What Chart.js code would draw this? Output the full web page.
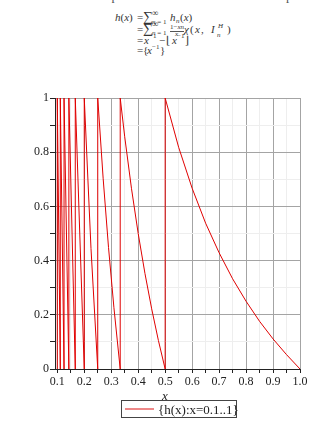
<!DOCTYPE html>
<html>
<head>
<meta charset="utf-8">
<script src="https://cdn.jsdelivr.net/npm/chart.js@4"></script>
<style>
  html, body { margin: 0; padding: 0; background: #fff; }
  body { width: 310px; height: 431px; position: relative; overflow: hidden; font-family: 'Liberation Serif', 'DejaVu Serif', serif; color: #222; }
  #chart { position: absolute; left: 0; top: 0; }
  .abs { position: absolute; white-space: nowrap; line-height: 1; }
  .cut { top: -11px; left: 0; font-size: 13px; color: #555; }
  .m { position: absolute; white-space: nowrap; line-height: 1; font-size: 11px; color: #333; }
  .i { font-style: italic; }
  .m.s { font-size: 7px; }
  .m.inf { font-size: 9px; }
  .m.big { font-size: 14px; }
  .bar { position: absolute; height: 1px; background: #555; }
  #xtitle { left: 162px; top: 389px; font-size: 13px; font-style: italic; }
  #legend { left: 121px; top: 400px; width: 114px; height: 16px; border: 1px solid #444; }
  #legend .ln { position: absolute; left: 3px; top: 7px; width: 29px; height: 2px; background: #e88; }
  #legend .tx { position: absolute; left: 36px; top: 2px; font-size: 13px; }
</style>
</head>
<body>
<div class="abs cut">is the sum of the component functions of the Gauss map</div>

<!-- h(x) = sum h_n(x) = sum (1-xn)/x chi(x, I_n^H) = x^-1 - floor(x^-1) = {x^-1} -->
<span class="m" style="left:115px;top:11.5px"><i>h</i>(<i>x</i>)</span>

<span class="m" style="left:137px;top:11.5px">=</span>
<span class="m big" style="left:143px;top:10px">&sum;</span>
<span class="m inf" style="left:152px;top:9px">&infin;</span>
<span class="m s" style="left:152px;top:18.5px"><i>n</i> = 1</span>
<span class="m i" style="left:170px;top:11.5px">h</span><span class="m s i" style="left:176px;top:17.5px">n</span><span class="m" style="left:180px;top:11.5px">(<i>x</i>)</span>

<span class="m" style="left:137px;top:23.5px">=</span>
<span class="m big" style="left:143px;top:22px">&sum;</span>
<span class="m inf" style="left:152px;top:20px">&infin;</span>
<span class="m s" style="left:152px;top:29.5px"><i>n</i> = 1</span>
<span class="m s" style="left:170px;top:23.5px">1&minus;<i>xn</i></span>
<span class="bar" style="left:170px;top:30.5px;width:14px"></span>
<span class="m s i" style="left:175px;top:31px">x</span>
<span class="m i" style="left:184px;top:23.5px">&chi;</span>
<span class="m" style="left:190px;top:23.5px">(</span>
<span class="m i" style="left:195px;top:23.5px">x</span>
<span class="m" style="left:201px;top:23.5px">,</span>
<span class="m i" style="left:211px;top:23.5px">I</span>
<span class="m s i" style="left:218px;top:22.5px">H</span>
<span class="m s i" style="left:217px;top:31.5px">n</span>
<span class="m" style="left:227px;top:23.5px">)</span>

<span class="m" style="left:137px;top:34.5px">=</span>
<span class="m i" style="left:144px;top:34.5px">x</span><span class="m s" style="left:149px;top:33px">&minus;1</span>
<span class="m" style="left:159px;top:34.5px">&minus;</span>
<span class="m" style="left:166px;top:34.5px">&lfloor;</span><span class="m i" style="left:172px;top:34.5px">x</span><span class="m s" style="left:177px;top:33px">&minus;1</span><span class="m" style="left:185px;top:34.5px">&rfloor;</span>

<span class="m" style="left:137px;top:44.5px">=</span>
<span class="m" style="left:143px;top:44.5px">{</span><span class="m i" style="left:147px;top:44.5px">x</span><span class="m s" style="left:152px;top:43.5px">&minus;1</span><span class="m" style="left:160px;top:44.5px">}</span>

<canvas id="chart" width="310" height="431"></canvas>

<div class="abs" id="xtitle">x</div>
<div class="abs" id="legend"><span class="ln"></span><span class="tx">{h(x):x=0.1..1}</span></div>

<script>
// h(x) = {1/x}, samples (x = 0.1 .. 1)
const xValues = [0.1, 0.1, 0.1111, 0.1111, 0.125, 0.125, 0.1429, 0.1429, 0.1667, 0.1667,
  0.2, 0.2, 0.225, 0.25, 0.25, 0.27, 0.29, 0.31, 0.3333, 0.3333,
  0.35, 0.375, 0.4, 0.425, 0.45, 0.475, 0.5, 0.5,
  0.55, 0.6, 0.65, 0.7, 0.75, 0.8, 0.85, 0.9, 0.95, 1.0];
const hValues = [0, 1, 0, 1, 0, 1, 0, 1, 0, 1,
  0, 1, 0.444, 0, 1, 0.704, 0.448, 0.226, 0, 1,
  0.857, 0.667, 0.5, 0.353, 0.222, 0.105, 0, 1,
  0.818, 0.667, 0.538, 0.429, 0.333, 0.25, 0.176, 0.111, 0.053, 0];

const xTickValues = [0.1, 0.15, 0.2, 0.25, 0.3, 0.35, 0.4, 0.45, 0.5, 0.55, 0.6, 0.65, 0.7, 0.75, 0.8, 0.85, 0.9, 0.95, 1.0];
const xTickLabels = ['0.1', '', '0.2', '', '0.3', '', '0.4', '', '0.5', '', '0.6', '', '0.7', '', '0.8', '', '0.9', '', '1.0'];
const yTickValues = [0, 0.1, 0.2, 0.3, 0.4, 0.5, 0.6, 0.7, 0.8, 0.9, 1];
const yTickLabels = ['0', '', '0.2', '', '0.4', '', '0.6', '', '0.8', '', '1'];

const majorGrid = '#a4a4a4';
const minorGrid = '#eeeeee';
const tickFont = { family: "'Liberation Serif', 'DejaVu Serif', serif", size: 12 };

new Chart(document.getElementById('chart'), {
  type: 'line',
  data: {
    datasets: [{
      label: '{h(x):x=0.1..1}',
      data: xValues.map((x, i) => ({ x, y: hValues[i] })),
      borderColor: '#e00000',
      borderWidth: 1,
      pointRadius: 0,
      tension: 0,
      fill: false,
    }],
  },
  options: {
    responsive: false,
    animation: false,
    devicePixelRatio: 1,
    layout: { padding: { top: 98, right: 10, bottom: 40, left: 0 } },
    plugins: { legend: { display: false }, tooltip: { enabled: false } },
    scales: {
      x: {
        type: 'linear', min: 0.0915, max: 1.0,
        afterBuildTicks: (s) => { s.ticks = xTickValues.map((v) => ({ value: v })); },
        afterFit: (s) => { s.height = 22; },
        ticks: {
          autoSkip: false, maxRotation: 0, color: '#222', font: tickFont, padding: 2,
          callback: (v, i) => xTickLabels[i],
        },
        grid: {
          color: (c) => (c.index % 2 === 0 ? majorGrid : minorGrid),
          tickColor: '#222', tickLength: 4, drawTicks: true,
        },
        border: { color: '#222', width: 1 },
      },
      y: {
        type: 'linear', min: 0, max: 1,
        afterBuildTicks: (s) => { s.ticks = yTickValues.map((v) => ({ value: v })); },
        afterFit: (s) => { s.width = 55; },
        ticks: {
          autoSkip: false, color: '#222', font: tickFont, padding: 1,
          callback: (v, i) => yTickLabels[i],
        },
        grid: {
          color: (c) => (c.index % 2 === 0 ? majorGrid : minorGrid),
          tickColor: '#222', tickLength: 5, drawTicks: true,
        },
        border: { color: '#222', width: 1 },
      },
    },
  },
});
</script>
</body>
</html>
